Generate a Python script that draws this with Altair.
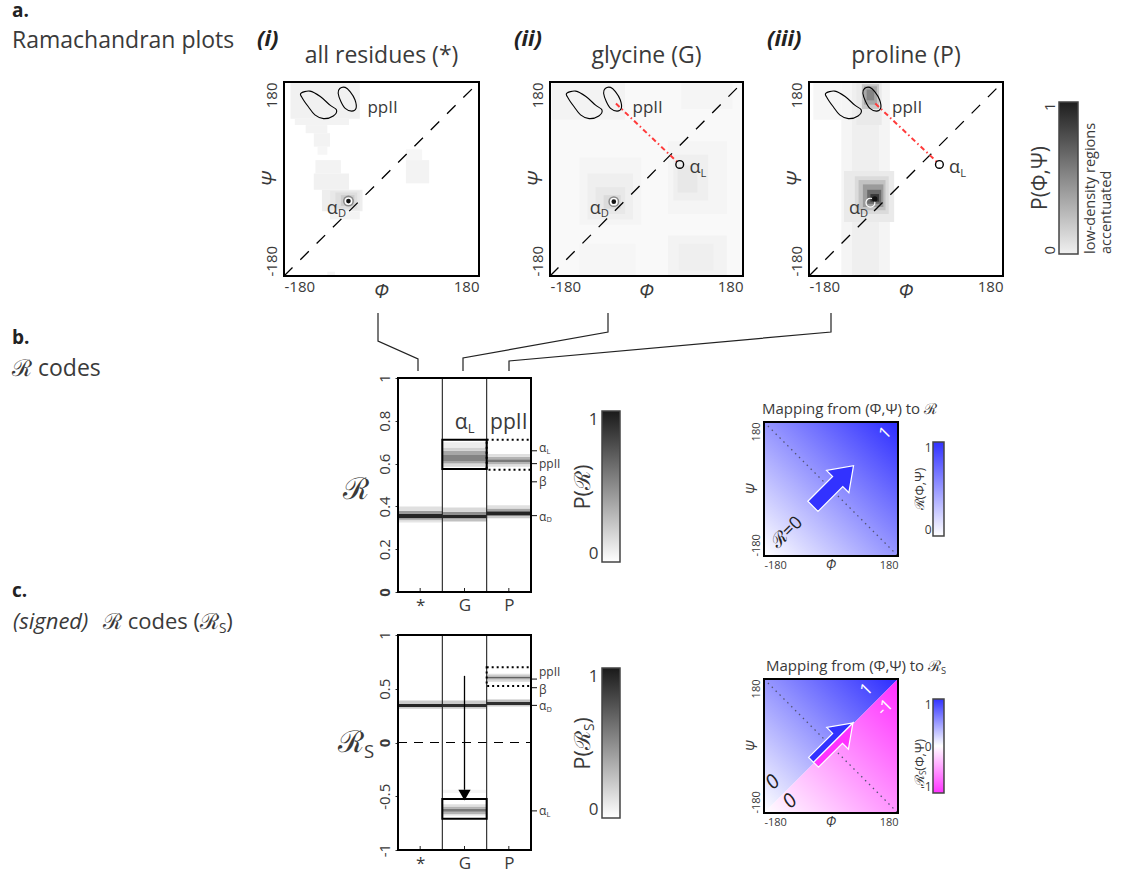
import json
import altair as alt
import pandas as pd

W, H = 1127, 871
FONT = "Open Sans"
INK = "#3a3a3a"
SUB = 0.62  # subscript size ratio

# ------------------------------------------------------------------ data
PANEL_TITLES = ["all residues (*)", "glycine (G)", "proline (P)"]
PANEL_TAGS = ["(i)", "(ii)", "(iii)"]

# Ramachandran densities: (phi from, phi to, psi from, psi to, level 0..1)
ALL_PATCHES = [
    (-168, -40, 112, 178, 0.055),
    (-160, -60, 100, 112, 0.045),
    (-140, -100, 85, 100, 0.045),
    (-125, -95, 60, 85, 0.045),
    (-118, -100, 45, 60, 0.035),
    (-122, -75, 10, 35, 0.045),
    (-125, -60, -20, 10, 0.055),
    (-110, -35, -60, -20, 0.065),
    (-95, -40, -75, -60, 0.045),
    (-95, -40, -58, -22, 0.09),
    (-85, -45, -55, -25, 0.13),
    (-75, -50, -50, -30, 0.20),
    (45, 75, 35, 55, 0.035),
    (45, 88, -8, 35, 0.045),
    (-100, -86, -180, -172, 0.04),
]
GLY_PATCHES = [
    (-180, 180, -180, 180, 0.022),
    (-176, -40, 110, 178, 0.045),
    (-125, -10, -85, 40, 0.04),
    (-110, -25, -75, 10, 0.06),
    (-95, -40, -65, -15, 0.09),
    (-80, -48, -55, -30, 0.14),
    (40, 150, -65, 70, 0.04),
    (50, 115, -40, 45, 0.06),
    (58, 95, -25, 25, 0.09),
    (40, 150, -180, -105, 0.045),
    (60, 125, -170, -120, 0.06),
    (65, 160, 130, 178, 0.04),
    (-125, -20, -180, -120, 0.035),
]
PRO_PATCHES = [
    (-120, -30, -180, 180, 0.04),
    (-100, -50, -180, 180, 0.06),
    (-172, -120, 110, 178, 0.035),
    (-92, -45, 100, 178, 0.08),
    (-82, -50, 130, 176, 0.22),
    (-78, -54, 138, 172, 0.35),
    (-73, -59, 146, 166, 0.50),
    (-115, -22, -80, 15, 0.08),
    (-95, -32, -65, 5, 0.14),
    (-88, -38, -58, -2, 0.24),
    (-80, -42, -52, -10, 0.40),
    (-72, -46, -46, -20, 0.62),
    (-66, -50, -42, -28, 0.85),
]
RAMA_PATCHES = [ALL_PATCHES, GLY_PATCHES, PRO_PATCHES]

# reference contours of the beta and ppII basins
BETA_PHI = [-149, -132, -113, -95, -83, -89, -107, -123, -135, -146]
BETA_PSI = [159, 163, 153, 137, 128, 117, 112, 119, 134, 150]
PPII_PHI = [-77, -67, -58, -49, -47, -55, -67, -75, -80]
PPII_PSI = [168, 170, 162, 147, 131, 126, 131, 144, 159]

ALPHA_D_CORE = [(-61, -41), (-61, -42), (-58, -37)]
ALPHA_L_SITE = (62, 27)
PPII_TO_ALPHA_L_PHI = [-57, 57]
PPII_TO_ALPHA_L_PSI = [140, 32]

# R code histograms: (column, R from, R to, level)
R_COLUMNS = ["*", "G", "P"]
R_BANDS = [
    (0, 0.325, 0.335, 0.10), (0, 0.335, 0.345, 0.30), (0, 0.345, 0.365, 0.95),
    (0, 0.365, 0.380, 0.40), (0, 0.380, 0.400, 0.12),
    (1, 0.330, 0.345, 0.25), (1, 0.345, 0.360, 0.95), (1, 0.360, 0.375, 0.45),
    (1, 0.375, 0.395, 0.15),
    (1, 0.585, 0.600, 0.15), (1, 0.600, 0.612, 0.35), (1, 0.612, 0.640, 0.50),
    (1, 0.640, 0.660, 0.35), (1, 0.660, 0.675, 0.18), (1, 0.675, 0.700, 0.07),
    (2, 0.345, 0.358, 0.20), (2, 0.358, 0.377, 0.95), (2, 0.377, 0.390, 0.35),
    (2, 0.390, 0.405, 0.12),
    (2, 0.585, 0.597, 0.12), (2, 0.597, 0.607, 0.30), (2, 0.607, 0.620, 0.55),
    (2, 0.620, 0.632, 0.30), (2, 0.632, 0.645, 0.12),
]
RS_BANDS = [
    (0, 0.315, 0.330, 0.20), (0, 0.330, 0.360, 0.95), (0, 0.360, 0.390, 0.20),
    (1, 0.315, 0.330, 0.20), (1, 0.330, 0.360, 0.90), (1, 0.360, 0.390, 0.20),
    (1, -0.470, -0.440, 0.04),
    (1, -0.680, -0.665, 0.12), (1, -0.665, -0.645, 0.30), (1, -0.645, -0.615, 0.55),
    (1, -0.615, -0.595, 0.30), (1, -0.595, -0.575, 0.12),
    (2, 0.335, 0.350, 0.20), (2, 0.350, 0.376, 0.90), (2, 0.376, 0.400, 0.25),
    (2, 0.565, 0.585, 0.15), (2, 0.585, 0.597, 0.35), (2, 0.597, 0.612, 0.65),
    (2, 0.612, 0.625, 0.30), (2, 0.625, 0.640, 0.12),
]
R_STATE_VALUES = [0.66, 0.60, 0.515, 0.357]
R_STATE_LABEL_AT = [0.672, 0.596, 0.512, 0.352]
R_STATE_NAMES = [("α", "L"), ("ppII", ""), ("β", ""), ("α", "D")]
RS_STATE_VALUES = [0.59, 0.51, 0.345, -0.636]
RS_STATE_LABEL_AT = [0.655, 0.49, 0.34, -0.64]
RS_STATE_NAMES = [("ppII", ""), ("β", ""), ("α", "D"), ("α", "L")]
R_BOX_ALPHA_L = (0.575, 0.712)
R_BOX_PPII = (0.571, 0.712)
RS_BOX_ALPHA_L = (-0.71, -0.525)
RS_BOX_PPII = (0.525, 0.70)
RS_FLIP = (0.62, -0.44)

# ------------------------------------------------------------------ helpers
CHAR_W = {"α": 0.62, "β": 0.6, "ℛ": 0.8, "Φ": 0.75, "Ψ": 0.78, "P": 0.6, "(": 0.3,
          ")": 0.3, ",": 0.26, " ": 0.26, "I": 0.28, "p": 0.6, "c": 0.48, "o": 0.6,
          "d": 0.6, "e": 0.56, "s": 0.47, "S": 0.54, "L": 0.5, "D": 0.7}


def text_width(s, size):
    return sum(CHAR_W.get(ch, 0.56) for ch in s) * size


class Panel:
    def __init__(self, box, xdom, ydom):
        self.x0, self.x1, self.y0, self.y1 = box
        self.xdom, self.ydom = list(xdom), list(ydom)
        self.xs = alt.Scale(domain=self.xdom, range=[self.x0, self.x1], nice=False, zero=False)
        self.ys = alt.Scale(domain=self.ydom, range=[self.y1, self.y0], nice=False, zero=False)

    def shift(self, x, y, dx, dy):
        ux = (self.xdom[1] - self.xdom[0]) / (self.x1 - self.x0)
        uy = (self.ydom[1] - self.ydom[0]) / (self.y0 - self.y1)
        return x + dx * ux, y + dy * uy

    def X(self, f, axis=None):
        return alt.X(f, type="quantitative", scale=self.xs, axis=axis)

    def Y(self, f, axis=None):
        return alt.Y(f, type="quantitative", scale=self.ys, axis=axis)


FIG = Panel((0, W, 0, H), (0, W), (H, 0))


def text_layer(p, rows, size, **mk):
    df = pd.DataFrame(rows, columns=["x", "y", "t"])
    style = dict(font=FONT, color=INK, fontSize=size, align="left", baseline="middle")
    style.update(mk)
    return alt.Chart(df).mark_text(**style).encode(x=p.X("x"), y=p.Y("y"), text="t:N")


def labels_with_subs(p, items, size, **mk):
    """Short labels such as alpha_D: main glyph left aligned, subscript right after it."""
    mains, subs = [], []
    for x, y, main, sub, center in items:
        wm = text_width(main, size)
        ws = text_width(sub, size * SUB)
        if center:
            x, y = p.shift(x, y, -(wm + ws) / 2, 0)
        mains.append((x, y, main))
        if sub:
            sx, sy = p.shift(x, y, wm, size * 0.3)
            subs.append((sx, sy, sub))
    out = [text_layer(p, mains, size, **mk)]
    if subs:
        out.append(text_layer(p, subs, size * SUB, **mk))
    return out


def end_sub(x, y, main, sub, tail, size, **mk):
    """Horizontal text whose subscript position is fixed: main ends at x, subscript starts there."""
    out = [text_layer(FIG, [(x, y, main)], size, align="right", **mk),
           text_layer(FIG, [(x, y + size * 0.3, sub)], size * SUB, **mk)]
    if tail:
        out.append(text_layer(FIG, [(x + text_width(sub, size * SUB), y, tail)], size, **mk))
    return out


def end_sub_rot(x, y, main, sub, tail, size, **mk):
    """Same as end_sub, rotated to read bottom to top."""
    out = [text_layer(FIG, [(x, y, main)], size, align="right", angle=270, **mk),
           text_layer(FIG, [(x + size * 0.3, y, sub)], size * SUB, angle=270, **mk)]
    if tail:
        out.append(text_layer(FIG, [(x, y - text_width(sub, size * SUB), tail)], size,
                              angle=270, **mk))
    return out


def frame_layer(p, xaxis=None, yaxis=None, width=2.0, dash=None, xr=None, yr=None):
    xa, xb = xr if xr else p.xdom
    ya, yb = yr if yr else p.ydom
    df = pd.DataFrame({"a": [xa], "b": [xb], "c": [ya], "d": [yb]})
    mk = dict(fill="transparent", stroke="black", strokeWidth=width)
    if dash:
        mk["strokeDash"] = dash
    return alt.Chart(df).mark_rect(**mk).encode(
        x=p.X("a", xaxis), x2=alt.X2("b"), y=p.Y("c", yaxis), y2=alt.Y2("d"))


def line_layer(p, xs, ys, closed=False, **mk):
    df = pd.DataFrame({"x": xs, "y": ys, "k": list(range(len(xs)))})
    style = dict(color="black", strokeWidth=1.1)
    if closed:
        style["interpolate"] = "cardinal-closed"
    style.update(mk)
    return alt.Chart(df).mark_line(**style).encode(x=p.X("x"), y=p.Y("y"), order="k:Q")


def point_layer(p, pts, **mk):
    df = pd.DataFrame(pts, columns=["x", "y"])
    return alt.Chart(df).mark_point(**mk).encode(x=p.X("x"), y=p.Y("y"))


GRAY = alt.Scale(domain=[0, 1], range=["#ffffff", "#1c1c1c"])


def patch_layer(p, patches):
    df = pd.DataFrame(patches, columns=["a", "b", "c", "d", "lvl"])
    return alt.Chart(df).mark_rect().encode(
        x=p.X("a"), x2=alt.X2("b"), y=p.Y("c"), y2=alt.Y2("d"),
        color=alt.Color("lvl:Q", scale=GRAY, legend=None))


def gradient(stops, x1=0, y1=1, x2=0, y2=0):
    return alt.LinearGradient(gradient="linear", x1=x1, y1=y1, x2=x2, y2=y2,
                              stops=[alt.GradientStop(offset=o, color=c) for o, c in stops])


def colorbar_layer(p, stops, axis):
    df = pd.DataFrame({"a": [p.xdom[0]], "b": [p.xdom[1]], "c": [p.ydom[0]], "d": [p.ydom[1]]})
    return alt.Chart(df).mark_rect(fill=gradient(stops), stroke="#444444", strokeWidth=1.5).encode(
        x=p.X("a"), x2=alt.X2("b"), y=p.Y("c", axis), y2=alt.Y2("d"))


PLAIN = "'' + datum.value"


def axis_bottom(p, values, size, pad=4, flush=True, expr=PLAIN):
    return alt.Axis(orient="bottom", offset=p.y1 - H, values=values, labelExpr=expr,
                    labelFlush=flush, ticks=False, domain=False, grid=False, title=None,
                    labelFont=FONT, labelFontSize=size, labelColor=INK, labelPadding=pad)


def axis_left_rot(p, values, size, pad=4, flush=True, ticks=False, bold_zero=False):
    top = max(values)
    kw = dict(orient="left", offset=-p.x0, values=values, labelExpr=PLAIN, labelAngle=270,
              labelBaseline="bottom", ticks=ticks, domain=False, grid=False, title=None,
              labelFont=FONT, labelFontSize=size, labelColor=INK, labelPadding=pad)
    if flush:
        kw["labelAlign"] = {"condition": {"test": f"datum.value >= {top}", "value": "right"},
                            "value": "left"}
    else:
        kw["labelAlign"] = "center"
    if ticks:
        kw.update(tickSize=3, tickColor="#333333", tickWidth=1)
    if bold_zero:
        kw["labelFontWeight"] = {"condition": {"test": "datum.value == 0", "value": "bold"},
                                 "value": "normal"}
    return alt.Axis(**kw)


def axis_left_flat(p, values, size, pad=4):
    return alt.Axis(orient="left", offset=-p.x0, values=values, labelExpr=PLAIN, labelFlush=True,
                    ticks=False, domain=False, grid=False, title=None, labelFont=FONT,
                    labelFontSize=size, labelColor=INK, labelPadding=pad)


layers = []

# ------------------------------------------------------------------ a. Ramachandran plots
RAMA = [Panel((284, 479, 82, 276), (-180, 180), (-180, 180)),
        Panel((550, 743, 82, 276), (-180, 180), (-180, 180)),
        Panel((809, 1003, 82, 276), (-180, 180), (-180, 180))]

for i, p in enumerate(RAMA):
    layers.append(patch_layer(p, RAMA_PATCHES[i]))
    if i == 2:
        layers.append(point_layer(p, [(-66, -44)], shape="circle", filled=False,
                                  color="white", size=80, strokeWidth=1.2, opacity=1))
        layers.append(point_layer(p, [ALPHA_D_CORE[i]], shape="circle", filled=True,
                                  color="#111111", size=30, opacity=1))
    else:
        layers.append(point_layer(p, [ALPHA_D_CORE[i]], shape="circle", filled=True,
                                  color="#8a8a8a", size=120, opacity=1))
        layers.append(point_layer(p, [ALPHA_D_CORE[i]], shape="circle", filled=True,
                                  color="white", size=62, opacity=1))
        layers.append(point_layer(p, [ALPHA_D_CORE[i]], shape="circle", filled=True,
                                  color="#111111", size=22, opacity=1))
    layers.append(line_layer(p, BETA_PHI, BETA_PSI, closed=True))
    layers.append(line_layer(p, PPII_PHI, PPII_PSI, closed=True))
    layers.append(line_layer(p, [-180, 172], [-180, 172], strokeDash=[12, 11], strokeWidth=1.3))
    if i > 0:
        layers.append(line_layer(p, PPII_TO_ALPHA_L_PHI, PPII_TO_ALPHA_L_PSI,
                                 color="#ff3b3b", strokeWidth=2, strokeDash=[5, 3, 1.5, 3]))
        layers.append(point_layer(p, [ALPHA_L_SITE], shape="circle", filled=False,
                                  color="black", size=60, strokeWidth=1.4, opacity=1))
    layers.append(text_layer(p, [(-26, 131, "ppII")], 17))
    items = [(-106 if i else -101, -55, "α", "D", False)]
    if i > 0:
        items.append((80, 20, "α", "L", False))
    layers += labels_with_subs(p, items, 18)
    xaxis = axis_bottom(p, [-180, 180], 15, pad=3)
    yaxis = axis_left_rot(p, [-180, 180], 15, pad=5)
    layers.append(frame_layer(p, xaxis, yaxis))
    cx = (p.x0 + p.x1) / 2
    layers.append(text_layer(FIG, [(cx, 292, "Φ")], 20, align="center", fontStyle="italic"))
    layers.append(text_layer(FIG, [(p.x0 - 14, 179, "Ψ")], 20, align="center",
                             fontStyle="italic", angle=270))
    layers.append(text_layer(FIG, [(cx, 56, PANEL_TITLES[i])], 23, align="center"))

layers.append(text_layer(FIG, [(257, 39, PANEL_TAGS[0]), (514, 39, PANEL_TAGS[1]),
                               (767, 39, PANEL_TAGS[2])], 22, fontWeight="bold",
                         fontStyle="italic", color="#222222"))

# colour bar of the Ramachandran densities
CB_A = Panel((1059, 1078, 102, 254), (0, 1), (0, 1))
layers.append(colorbar_layer(CB_A, [(0, "#f0f0f0"), (0.5, "#8a8a8a"), (1, "#1e1e1e")],
                             axis_left_rot(CB_A, [0, 1], 15, pad=2)))
layers.append(text_layer(FIG, [(1041, 178, "P(Φ,Ψ)")], 21, align="center", angle=270))
layers.append(text_layer(FIG, [(1091, 254, "low-density regions"),
                               (1107, 254, "accentuated")], 14.5, angle=270))

# connectors from the Ramachandran plots to the R code columns
CONNECTORS = [
    [(378, 313), (378, 341), (418, 359), (418, 371)],
    [(608, 313), (608, 332), (463, 358), (463, 371)],
    [(831, 313), (831, 332), (509, 361), (509, 371)],
]
for path in CONNECTORS:
    layers.append(line_layer(FIG, [q[0] for q in path], [q[1] for q in path],
                             strokeWidth=1.2, color="#222222"))

# ------------------------------------------------------------------ b./c. code histograms
col_expr = json.dumps(R_COLUMNS) + "[floor(datum.value)]"


def code_panel(p, bands, state_vals, label_at, state_names, box_a, box_p, ylabels):
    out = []
    df = pd.DataFrame(bands, columns=["col", "lo", "hi", "lvl"])
    df["c1"] = df["col"] + 1
    out.append(alt.Chart(df).mark_rect().encode(
        x=p.X("col"), x2=alt.X2("c1"), y=p.Y("lo"), y2=alt.Y2("hi"),
        color=alt.Color("lvl:Q", scale=GRAY, legend=None)))
    for c in (1, 2):
        out.append(line_layer(p, [c, c], p.ydom, strokeWidth=1.1, color="#222222"))
    # inner ticks under each column
    for c in (0.5, 1.5, 2.5):
        _, ty = p.shift(c, p.ydom[0], 0, -4)
        out.append(line_layer(p, [c, c], [p.ydom[0], ty], strokeWidth=1, color="#222222"))
    out.append(frame_layer(p, width=2, xr=(1, 2), yr=box_a))
    out.append(frame_layer(p, width=2, dash=[2, 3], xr=(2, 3), yr=box_p))
    # state markers on the right edge
    items = []
    for v, ly, (m, s) in zip(state_vals, label_at, state_names):
        ex, _ = p.shift(3, v, 6, 0)
        out.append(line_layer(p, [3, ex], [v, v], strokeWidth=1.1, color="#222222"))
        lx, _ = p.shift(3, v, 8, 0)
        items.append((lx, ly, m, s, False))
    out += labels_with_subs(p, items, 12)
    xaxis = axis_bottom(p, [0.5, 1.5, 2.5], 17, pad=5, flush=False, expr=col_expr)
    yaxis = axis_left_rot(p, ylabels, 15, pad=3, flush=False, ticks=True, bold_zero=True)
    out.append(frame_layer(p, xaxis, yaxis))
    return out


PB = Panel((398, 531, 378, 592), (0, 3), (0, 1))
layers += code_panel(PB, R_BANDS, R_STATE_VALUES, R_STATE_LABEL_AT, R_STATE_NAMES,
                     R_BOX_ALPHA_L, R_BOX_PPII, [0, 0.2, 0.4, 0.6, 0.8, 1])
layers += labels_with_subs(PB, [(1.5, 0.79, "α", "L", True)], 21)
layers.append(text_layer(PB, [(2.5, 0.79, "ppII")], 21, align="center"))

PC = Panel((398, 531, 635, 850), (0, 3), (-1, 1))
layers.append(line_layer(PC, [0, 3], [0, 0], strokeDash=[9, 7], strokeWidth=1.2))
layers += code_panel(PC, RS_BANDS, RS_STATE_VALUES, RS_STATE_LABEL_AT, RS_STATE_NAMES,
                     RS_BOX_ALPHA_L, RS_BOX_PPII, [-1, -0.5, 0, 0.5, 1])
layers.append(line_layer(PC, [1.5, 1.5], list(RS_FLIP), strokeWidth=1.3))
layers.append(point_layer(PC, [(1.5, RS_FLIP[1] - 0.05)], shape="triangle-down", filled=True,
                          color="black", size=150, opacity=1))

# axis titles and colour bars of the code panels
layers.append(text_layer(FIG, [(356, 490, "ℛ")], 30, align="center"))
layers += end_sub(364, 743, "ℛ", "S", "", 30)

CB_B = Panel((602, 620, 411, 562), (0, 1), (0, 1))
layers.append(colorbar_layer(CB_B, [(0, "#ffffff"), (1, "#1a1a1a")],
                             axis_left_flat(CB_B, [0, 1], 17, pad=4)))
layers.append(text_layer(FIG, [(583, 487, "P(ℛ)")], 22, align="center", angle=270))

CB_C = Panel((602, 620, 668, 818), (0, 1), (0, 1))
layers.append(colorbar_layer(CB_C, [(0, "#ffffff"), (1, "#1a1a1a")],
                             axis_left_flat(CB_C, [0, 1], 17, pad=4)))
layers += end_sub_rot(583, 731, "P(ℛ", "S", ")", 22)

# ------------------------------------------------------------------ mappings (phi, psi) -> R
ARROW = "M -1 -0.25 L 0.22 -0.25 L 0.22 -0.55 L 1 0 L 0.22 0.55 L 0.22 0.25 L -1 0.25 Z"
ARROW_UP = "M -1 -0.25 L 0.22 -0.25 L 0.22 -0.55 L 1 0 L -1 0 Z"
ARROW_DN = "M -1 0 L 1 0 L 0.22 0.55 L 0.22 0.25 L -1 0.25 Z"
BLUE, MAGENTA = "#3232ff", "#ff32ff"


def mapping_axes(p):
    return (axis_bottom(p, [-180, 180], 11, pad=3), axis_left_rot(p, [-180, 180], 11, pad=3))


MB = Panel((764, 898, 422, 556), (-180, 180), (-180, 180))
sq = pd.DataFrame({"a": [-180], "b": [180], "c": [-180], "d": [180]})
layers.append(alt.Chart(sq).mark_rect(
    fill=gradient([(0, "#ffffff"), (1, "#2c2cff")], x1=0, y1=1, x2=1, y2=0)).encode(
    x=MB.X("a"), x2=alt.X2("b"), y=MB.Y("c"), y2=alt.Y2("d")))
layers.append(line_layer(MB, [-180, 180], [180, -180], strokeDash=[1.5, 4], strokeWidth=1.3,
                         color="#555577"))
layers.append(point_layer(MB, [(6, 8)], shape=ARROW, filled=True, fill=BLUE, stroke="white",
                          strokeWidth=1.2, size=3300, angle=315, opacity=1))
layers.append(text_layer(MB, [(146, 150, "1")], 17, align="center", angle=315, color="white"))
layers.append(text_layer(MB, [(-118, -118, "ℛ=0")], 18, align="center", angle=315,
                         color="#222222"))
xa, ya = mapping_axes(MB)
layers.append(frame_layer(MB, xa, ya, width=2))
layers.append(text_layer(FIG, [(762, 409, "Mapping from (Φ,Ψ) to ℛ")], 15))
layers.append(text_layer(FIG, [(831, 566, "Φ")], 14, align="center", fontStyle="italic"))
layers.append(text_layer(FIG, [(753, 489, "Ψ")], 14, align="center", fontStyle="italic",
                         angle=270))

CB_MB = Panel((933, 944, 442, 536), (0, 1), (0, 1))
layers.append(colorbar_layer(CB_MB, [(0, "#ffffff"), (1, BLUE)],
                             axis_left_flat(CB_MB, [0, 1], 12, pad=2)))
layers.append(text_layer(FIG, [(920, 489, "ℛ(Φ,Ψ)")], 13, align="center", angle=270))

MC = Panel((764, 898, 679, 813), (-180, 180), (-180, 180))
tri = pd.DataFrame({"x": [-180, 180], "top": [180, 180], "mid": [-180, 180],
                    "bot": [-180, -180]})
layers.append(alt.Chart(tri).mark_area(
    fill=gradient([(0, "#ffffff"), (1, "#2c2cff")], x1=0, y1=1, x2=1, y2=0)).encode(
    x=MC.X("x"), y=MC.Y("top"), y2=alt.Y2("mid")))
layers.append(alt.Chart(tri).mark_area(
    fill=gradient([(0, "#ffffff"), (1, "#ff2cff")], x1=0, y1=1, x2=1, y2=0)).encode(
    x=MC.X("x"), y=MC.Y("mid"), y2=alt.Y2("bot")))
layers.append(line_layer(MC, [-180, 180], [180, -180], strokeDash=[1.5, 4], strokeWidth=1.3,
                         color="#555577"))
layers.append(point_layer(MC, [(6, 9)], shape=ARROW_UP, filled=True, fill=BLUE, stroke="white",
                          strokeWidth=1.2, size=3100, angle=315, opacity=1))
layers.append(point_layer(MC, [(6, 9)], shape=ARROW_DN, filled=True, fill=MAGENTA,
                          stroke="white", strokeWidth=1.2, size=3100, angle=315, opacity=1))
layers.append(text_layer(MC, [(96, 151, "1"), (145, 103, "-1")], 17, align="center", angle=315,
                         color="white"))
layers.append(text_layer(MC, [(-156, -98, "0"), (-110, -149, "0")], 20, align="center",
                         angle=315, color="#222222", fontStyle="italic"))
xa, ya = mapping_axes(MC)
layers.append(frame_layer(MC, xa, ya, width=2))
layers += end_sub(941, 666, "Mapping from (Φ,Ψ) to ℛ", "S", "", 15)
layers.append(text_layer(FIG, [(831, 823, "Φ")], 14, align="center", fontStyle="italic"))
layers.append(text_layer(FIG, [(753, 746, "Ψ")], 14, align="center", fontStyle="italic",
                         angle=270))

CB_MC = Panel((933, 944, 699, 793), (-1, 1), (-1, 1))
layers.append(colorbar_layer(CB_MC, [(0, MAGENTA), (0.5, "#ffffff"), (1, BLUE)],
                             axis_left_flat(CB_MC, [-1, 0, 1], 12, pad=2)))
layers += end_sub_rot(920, 775, "ℛ", "S", "(Φ,Ψ)", 13)

# ------------------------------------------------------------------ section headings
layers.append(text_layer(FIG, [(12, 11, "a."), (12, 338, "b."), (12, 591, "c.")], 19,
                         fontWeight="bold", color="#222222"))
layers.append(text_layer(FIG, [(12, 41, "Ramachandran plots"), (12, 369, "ℛ codes")], 23))
layers.append(text_layer(FIG, [(13, 622, "(signed)")], 22, fontStyle="italic"))
layers.append(text_layer(FIG, [(103, 622, "ℛ codes")], 22))
layers += end_sub(219, 622, "(ℛ", "S", ")", 22)

chart = alt.layer(*layers).properties(
    width=W, height=H, padding=0, background="white",
    autosize=alt.AutoSizeParams(type="none"),
).resolve_scale(
    x="independent", y="independent", color="independent"
).resolve_axis(
    x="independent", y="independent"
).configure_view(strokeWidth=0)

chart.save("out.html", embed_options={"renderer": "svg", "actions": False})
